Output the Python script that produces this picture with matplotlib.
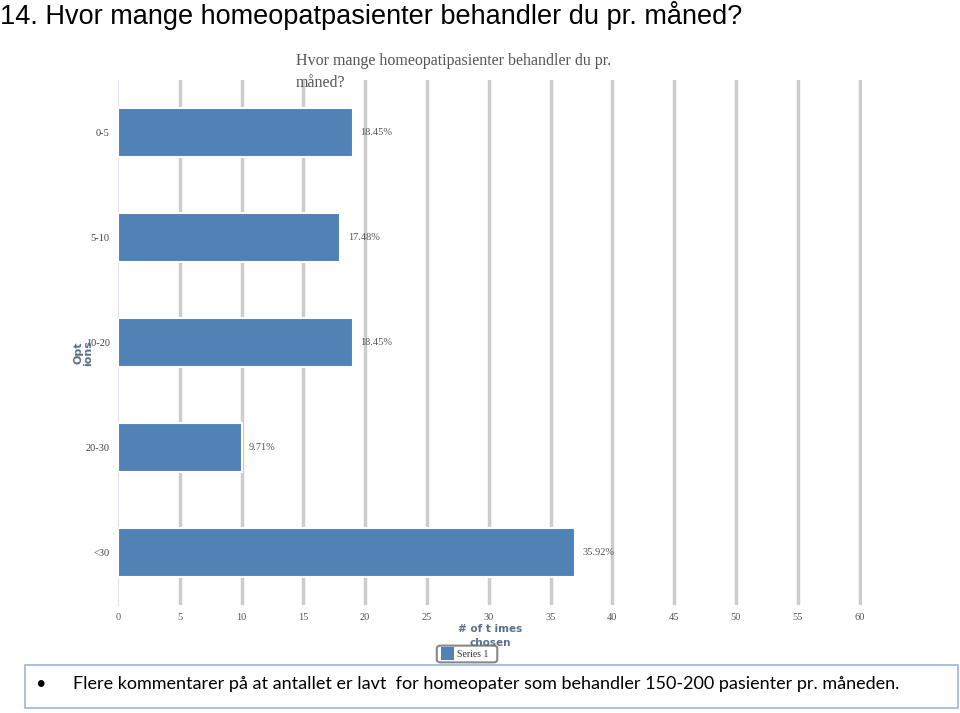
import matplotlib.pyplot as plt
from matplotlib.patches import Rectangle, FancyBboxPatch

kategorier = ["0-5", "5-10", "10-20", "20-30", "<30"]
antall = [19, 18, 19, 10, 37]
prosent = ["18.45%", "17.48%", "18.45%", "9.71%", "35.92%"]
xticks = list(range(0, 61, 5))

blaa = "#5082b6"
fig = plt.figure(figsize=(9.6, 7.13), dpi=100)

# slide title
fig.text(0.0, 0.978, "14. Hvor mange homeopatpasienter behandler du pr. måned?",
         family="Liberation Sans", fontsize=19.5, va="center", ha="left", color="black")

ax = fig.add_axes([0.1229, 0.1515, 0.775, 0.7363])
pos = list(range(len(kategorier)))
ax.barh(pos, antall, height=0.46, color=blaa, edgecolor="white", linewidth=1.5, zorder=3)
for p, v, t in zip(pos, antall, prosent):
    ax.text(v + 0.6, p, t, family="Liberation Serif", fontsize=7.5, color="#555555",
            va="center", ha="left", zorder=4)

for x in xticks[1:]:
    ax.axvline(x, color="#cccccc", lw=2.5, zorder=1)

ax.set_xlim(0, 60.2)
ax.set_ylim(4.5, -0.5)
ax.set_yticks(pos)
ax.set_yticklabels(kategorier, family="Liberation Serif", fontsize=7.5, color="#444444")
ax.set_xticks(xticks)
ax.set_xticklabels([str(x) for x in xticks], family="Liberation Serif", fontsize=7.5, color="#555555")
ax.tick_params(length=0, pad=6)
for s in ["top", "right", "bottom"]:
    ax.spines[s].set_visible(False)
ax.spines["left"].set_color("#dde3ea")

fig.text(0.308, 0.899, "Hvor mange homeopatipasienter behandler du pr.\nmåned?",
         family="Liberation Serif", fontsize=11.5, color="#555555", va="center", ha="left",
         linespacing=1.45)
fig.text(0.087, 0.505, "Opt\nions", rotation=90, family="DejaVu Sans", fontsize=8,
         fontweight="bold", color="#5a6f8a", va="center", ha="center", linespacing=0.9)
fig.text(0.511, 0.108, "# of t imes\nchosen", family="DejaVu Sans", fontsize=7.5,
         fontweight="bold", color="#5a6f8a", va="center", ha="center", linespacing=1.4)

# legend box
fig.patches.append(FancyBboxPatch((0.455, 0.071), 0.063, 0.0235,
                                  boxstyle="round,pad=0,rounding_size=0.004",
                                  transform=fig.transFigure, facecolor="white",
                                  edgecolor="#888888", lw=1.5))
fig.patches.append(Rectangle((0.459, 0.074), 0.014, 0.018, transform=fig.transFigure,
                             facecolor=blaa, edgecolor="none"))
fig.text(0.476, 0.082, "Series 1", family="Liberation Serif", fontsize=7, color="#333333",
         va="center", ha="left")

# bottom comment box
fig.patches.append(Rectangle((0.026, 0.007), 0.972, 0.06, transform=fig.transFigure,
                             facecolor="white", edgecolor="#9bb5d6", lw=1.2))
fig.text(0.037, 0.04, "•", family="Lato", fontsize=13, va="center")
fig.text(0.076, 0.04,
         "Flere kommentarer på at antallet er lavt  for homeopater som behandler 150-200 pasienter pr. måneden.",
         family="Lato", fontsize=13, va="center", ha="left")

fig.savefig("out.png", dpi=100)
